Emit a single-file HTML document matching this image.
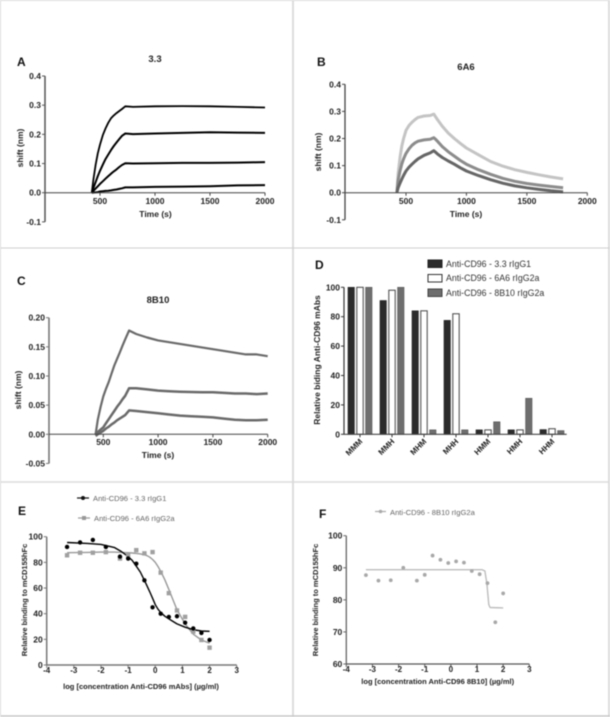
<!DOCTYPE html>
<html lang="en">
<head>
<meta charset="utf-8">
<title>Anti-CD96 binding panels</title>
<style>
html,body{margin:0;padding:0;background:#fff;}
#figure{display:block;width:610px;height:717px;font-family:"Liberation Sans",sans-serif;filter:blur(0.4px);}
text{font-family:"Liberation Sans",sans-serif;}
.panel{font-size:12px;font-weight:bold;fill:#111;}
.title{font-size:9.5px;font-weight:bold;fill:#222;text-anchor:middle;}
.axt{font-size:8.5px;font-weight:bold;fill:#222;text-anchor:middle;}
.tick{font-size:8.5px;fill:#222;font-weight:bold;stroke:none;}
.leg{font-size:8.8px;fill:#333;}
.leg2{font-size:7.6px;fill:#666;}
</style>
</head>
<body>
<svg id="figure" xmlns="http://www.w3.org/2000/svg" width="610" height="717" viewBox="0 0 610 717">
  <g stroke="#dcdcdc" fill="none">
    <line x1="0" y1="0.5" x2="610" y2="0.5"/>
    <line x1="293" y1="0" x2="293" y2="717" stroke-width="2"/>
    <line x1="609" y1="0" x2="609" y2="717" stroke-width="2"/>
    <line x1="0" y1="248" x2="610" y2="248" stroke="#cfcfcf"/>
    <line x1="0" y1="482" x2="610" y2="482" stroke-width="1.5"/>
    <line x1="0" y1="716" x2="610" y2="716" stroke="#c8c8c8" stroke-width="1.5"/>
    <line x1="0.5" y1="0" x2="0.5" y2="717"/>
  </g>

  <text class="panel" x="17" y="66">A</text>
  <text class="panel" x="317" y="66">B</text>
  <text class="panel" x="17" y="285">C</text>
  <text class="panel" x="315" y="269">D</text>
  <text class="panel" x="18" y="515">E</text>
  <text class="panel" x="319" y="518">F</text>

  <text class="title" x="155" y="62">3.3</text>
  <text class="title" x="466" y="70">6A6</text>
  <text class="title" x="158" y="303">8B10</text>

  <text class="axt" transform="translate(23,148) rotate(-90)">shift (nm)</text>
  <text class="axt" x="155.5" y="217">Time (s)</text>
  <text class="axt" transform="translate(321,152) rotate(-90)">shift (nm)</text>
  <text class="axt" x="466" y="217">Time (s)</text>
  <text class="axt" transform="translate(21,390) rotate(-90)">shift (nm)</text>
  <text class="axt" x="158" y="458">Time (s)</text>
  <text class="axt" transform="translate(320,360) rotate(-90)">Relative biding Anti-CD96 mAbs</text>
  <text class="axt" style="font-size:7.5px" transform="translate(27,600) rotate(-90)">Relative binding to mCD155hFc</text>
  <text class="axt" style="font-size:7.5px" x="141" y="689">log [concentration Anti-CD96 mAbs] (µg/ml)</text>
  <text class="axt" style="font-size:7.5px" transform="translate(318,600) rotate(-90)">Relative binding to mCD155hFc</text>
  <text class="axt" style="font-size:7.5px" x="437.7" y="684">log [concentration Anti-CD96 8B10] (µg/ml)</text>

  <g>
    <rect x="428" y="260" width="14" height="7.5" fill="#2b2b2b" stroke="#222"/>
    <text class="leg" x="446" y="267">Anti-CD96 - 3.3 rIgG1</text>
    <rect x="428" y="274.5" width="14" height="7.5" fill="#fff" stroke="#333"/>
    <text class="leg" x="446" y="281">Anti-CD96 - 6A6 rIgG2a</text>
    <rect x="428" y="289" width="14" height="7.5" fill="#6e6e6e" stroke="#444"/>
    <text class="leg" x="446" y="296">Anti-CD96 - 8B10 rIgG2a</text>
  </g>

  <g>
    <line x1="77" y1="498" x2="89" y2="498" stroke="#111" stroke-width="1.2"/>
    <circle cx="83" cy="498" r="2" fill="#111"/>
    <text class="leg2" x="93" y="501">Anti-CD96 - 3.3 rIgG1</text>
    <line x1="78" y1="518" x2="90" y2="518" stroke="#999" stroke-width="1.2"/>
    <rect x="82" y="516" width="4" height="4" fill="#999"/>
    <text class="leg2" x="94" y="521">Anti-CD96 - 6A6 rIgG2a</text>
  </g>

  <g>
    <line x1="375" y1="511.5" x2="386" y2="511.5" stroke="#aaa" stroke-width="1.2"/>
    <circle cx="380.5" cy="511.5" r="1.8" fill="#aaa"/>
    <text class="leg2" x="390" y="515">Anti-CD96 - 8B10 rIgG2a</text>
  </g>

  <g id="marks"></g>
</svg>
<script>
// Panel A
const aTime = [425,440,460,480,500,525,550,575,600,625,650,675,700,730,800,1000,1250,1500,1750,2000];
const aTop = [0,.045,.095,.135,.165,.197,.22,.24,.255,.265,.273,.28,.287,.296,.294,.296,.297,.296,.294,.292];
const aSecond = [0,.016,.036,.057,.075,.096,.115,.131,.146,.16,.172,.184,.195,.203,.201,.203,.205,.207,.206,.205];
const aThird = [0,.006,.014,.022,.03,.039,.048,.057,.065,.073,.08,.088,.095,.101,.1,.101,.102,.102,.103,.105];
const aFourth = [0,.0005,.001,.002,.004,.005,.006,.007,.008,.0095,.011,.013,.015,.018,.018,.02,.021,.022,.025,.026];
const aYTicks = ['-0.1','0.0','0.1','0.2','0.3','0.4'];
const timeTicks = ['500','1000','1500','2000'];

// Panel B
const bTime = [425,435,450,465,480,500,525,550,575,600,650,700,730,745,760,800,850,900,950,1000,1100,1200,1300,1400,1500,1600,1700,1800];
const bLight = [0,.07,.13,.172,.2,.23,.248,.26,.27,.278,.283,.285,.29,.28,.27,.245,.22,.2,.182,.165,.14,.115,.098,.085,.075,.066,.058,.051];
const bMid = [0,.045,.08,.106,.125,.145,.162,.175,.184,.19,.195,.197,.203,.197,.19,.17,.151,.135,.119,.105,.085,.068,.053,.042,.034,.028,.023,.018];
const bDark = [0,.018,.035,.05,.064,.08,.094,.105,.116,.125,.138,.147,.155,.149,.143,.13,.117,.105,.092,.08,.063,.048,.035,.025,.018,.012,.007,.003];
const bYTicks = ['-0.1','0.0','0.1','0.2','0.3','0.4'];

// Panel C
const cTime = [430,450,475,500,525,550,575,600,625,650,675,700,735,800,900,1000,1100,1200,1300,1400,1500,1600,1700,1800,1900,2000];
const cTop = [0,.025,.047,.065,.078,.09,.104,.118,.129,.14,.152,.163,.178,.172,.166,.161,.158,.155,.152,.149,.146,.143,.14,.137,.137,.134];
const cMid = [0,.004,.008,.012,.019,.026,.033,.04,.047,.053,.06,.066,.079,.079,.077,.075,.074,.073,.0725,.072,.072,.071,.07,.07,.069,.07];
const cLow = [-.003,0,.003,.006,.01,.013,.017,.02,.024,.027,.03,.033,.041,.04,.038,.036,.034,.032,.031,.03,.029,.027,.025,.024,.024,.025];
const cYTicks = ['-0.05','0.00','0.05','0.10','0.15','0.20'];

// Panel D
const dCategories = ['MMM','MMH','MHM','MHH','HMM','HMH','HHM'];
const d33 = [100,91,84,77.5,3,3,3.2];
const d6A6 = [100,98,84,82,3,3,3.8];
const d8B10 = [100,100,3,3,8.5,24.5,2.5];
const dYTicks = ['0','20','40','60','80','100'];

// Panels E and F
const doseLog = [-3.25,-2.77,-2.3,-1.82,-1.3,-1,-0.7,-0.4,-0.1,0.2,0.5,0.8,1.1,1.4,1.7,2];
const e33Points = [92,95.5,97.5,92,84.5,83,79,66,45,40,37.5,38,33,28.5,25,19.5];
const e6A6Points = [85.5,87.5,87.5,88,83,85.5,89.5,87,88,72,56,42.5,37.5,26,19.5,13.5];
const eCurveX = [-3.25,-2.5,-2,-1.5,-1.25,-1,-.85,-.7,-.55,-.4,-.3,-.2,-.1,0,.1,.2,.35,.5,.65,.8,1.1,1.4,1.7,2];
const e33Curve = [95.5,94.8,94,91.5,88.5,84.5,81.5,77,72.5,66,61.5,57,52,47,43.5,41,38,36,34,32,29.5,27.5,26.5,26.3];
const e6A6Curve = [87.5,87.8,88,88,87.8,87.5,87.3,87,86.6,86,85.2,84,82.2,80,76.8,73,66.5,59,51,43,32,24,19.5,17];
const f8B10Points = [87.7,86,86.1,90,86,87.8,93.8,92.5,91.5,92,91.6,89,88,85.2,73,82];
const fCurveX = [-3.25,1.2,1.3,1.38,1.45,1.5,2];
const fCurve = [89.4,89.4,89,85,78.5,77.6,77.5];
const logTicks = ['-4','-3','-2','-1','0','1','2','3'];
const eYTicks = ['0','20','40','60','80','100'];
const fYTicks = ['60','70','80','90','100'];

const root = document.getElementById('marks');
const NS = 'http://www.w3.org/2000/svg';

function make(tag, attrs) {
  const el = document.createElementNS(NS, tag);
  for (const k in attrs) el.setAttribute(k, attrs[k]);
  root.appendChild(el);
  return el;
}
function linear(d0, d1, r0, r1) {
  return v => r0 + (v - d0) * (r1 - r0) / (d1 - d0);
}
function drawCurve(xs, ys, sx, sy, color, width) {
  const pts = xs.map((x, i) => sx(x).toFixed(1) + ',' + sy(ys[i]).toFixed(1)).join(' ');
  const el = make('polyline', {points: pts, fill: 'none', stroke: color, 'stroke-width': width, 'stroke-linejoin': 'round'});
  
  
}
function drawYAxis(ticks, sy, xPos, color, width) {
  const nums = ticks.map(Number);
  const axis = make('line', {x1: xPos, x2: xPos, y1: sy(Math.min(...nums)), y2: sy(Math.max(...nums)), stroke: color, 'stroke-width': width});
  
  
  ticks.forEach(t => {
    const y = sy(Number(t));
    const m = make('line', {x1: xPos - 3, x2: xPos, y1: y, y2: y, stroke: color, 'stroke-width': 1});
    
    
    const lab = make('text', {x: xPos - 4, y: y + 3, 'text-anchor': 'end', class: 'tick'});
    lab.textContent = t;
    
    
  });
}
function drawXAxis(ticks, sx, yPos, x0, x1, color, width, labelY, size) {
  const axis = make('line', {x1: x0, x2: x1, y1: yPos, y2: yPos, stroke: color, 'stroke-width': width});
  
  
  ticks.forEach(t => {
    const x = sx(Number(t));
    const m = make('line', {x1: x, x2: x, y1: yPos, y2: yPos + 3, stroke: color, 'stroke-width': 1});
    
    
    const lab = make('text', {x: x, y: labelY, 'text-anchor': 'middle', class: 'tick', style: 'font-size:' + size + 'px'});
    lab.textContent = t;
    
    
  });
}

// A
const ax = linear(500, 2000, 100, 265), ay = linear(0, 0.4, 192.7, 76);
drawCurve(aTime, aTop, ax, ay, '#000', 1.8);
drawCurve(aTime, aSecond, ax, ay, '#000', 2);
drawCurve(aTime, aThird, ax, ay, '#000', 2);
drawCurve(aTime, aFourth, ax, ay, '#000', 2);
drawYAxis(aYTicks, ay, 45, '#555', 1.5);
drawXAxis(timeTicks, ax, ay(0), 45, 265, '#444', 1, 204, 8.5);

// B
const bx = linear(500, 2000, 406, 587.3), by = linear(0, 0.4, 192.7, 84.3);
drawCurve(bTime, bLight, bx, by, '#c4c4c4', 3);
drawCurve(bTime, bMid, bx, by, '#8c8c8c', 3);
drawCurve(bTime, bDark, bx, by, '#666', 3);
drawYAxis(bYTicks, by, 345, '#444', 1.3);
drawXAxis(timeTicks, bx, by(0), 345, 587.3, '#444', 1, 204, 8.5);

// C
const cx = linear(500, 2000, 103.3, 267.7), cy = linear(0, 0.2, 434.3, 317.7);
drawCurve(cTime, cTop, cx, cy, '#6a6a6a', 2.2);
drawCurve(cTime, cMid, cx, cy, '#6a6a6a', 2.5);
drawCurve(cTime, cLow, cx, cy, '#6a6a6a', 2.5);
drawYAxis(cYTicks, cy, 49, '#777', 1.6);
drawXAxis(timeTicks, cx, cy(0), 49, 267.7, '#444', 1, 445, 8.5);

// D
const dy = linear(0, 100, 434.3, 287.3);
const dCenter = linear(0, 6, 360, 552);
const barW = 6.4;
const barStep = 8.8;
dCategories.forEach((name, i) => {
  const c = dCenter(i);
  const b1 = make('rect', {x: c - barStep - barW / 2, y: dy(d33[i]), width: barW, height: dy(0) - dy(d33[i]), fill: '#2b2b2b', stroke: '#222', 'stroke-width': 0.6});
  
  
  const b2 = make('rect', {x: c - barW / 2, y: dy(d6A6[i]), width: barW, height: dy(0) - dy(d6A6[i]), fill: '#fff', stroke: '#444', 'stroke-width': 1});
  
  
  const b3 = make('rect', {x: c + barStep - barW / 2, y: dy(d8B10[i]), width: barW, height: dy(0) - dy(d8B10[i]), fill: '#6e6e6e', stroke: '#555', 'stroke-width': 0.6});
  
  
  const m = make('line', {x1: c, x2: c, y1: dy(0), y2: dy(0) + 3, stroke: '#333'});
  
  
  const lab = make('text', {'text-anchor': 'end', class: 'tick', transform: 'translate(' + (c + 3) + ',442) rotate(-45)', style: 'font-size:8px'});
  lab.textContent = name;
  
  
});
drawYAxis(dYTicks, dy, 344, '#333', 1.2);
const dBase = make('line', {x1: 344, x2: 566.7, y1: dy(0), y2: dy(0), stroke: '#444', 'stroke-width': 1.2});



// E
const ex = linear(-4, 3, 46.7, 236.7), ey = linear(0, 100, 665, 536.7);
drawCurve(eCurveX, e6A6Curve, ex, ey, '#999', 1.4);
drawCurve(eCurveX, e33Curve, ex, ey, '#000', 1.4);
doseLog.forEach((d, i) => {
  const s = make('rect', {x: ex(d) - 2.2, y: ey(e6A6Points[i]) - 2.2, width: 4.4, height: 4.4, fill: '#a0a0a0'});
  
  
  const p = make('circle', {cx: ex(d), cy: ey(e33Points[i]), r: 2.2, fill: '#000'});
  
  
});
drawYAxis(eYTicks, ey, 46.7, '#777', 1.5);
drawXAxis(logTicks, ex, ey(0), 46.7, 236.7, '#777', 1.5, 673, 8);

// F
const fx = linear(-4, 3, 346.3, 529.3), fy = linear(60, 100, 664, 535.7);
drawCurve(fCurveX, fCurve, fx, fy, '#bdbdbd', 1.4);
doseLog.forEach((d, i) => {
  const p = make('circle', {cx: fx(d), cy: fy(f8B10Points[i]), r: 1.9, fill: '#a8a8a8'});
  
  
});
drawYAxis(fYTicks, fy, 346.3, '#666', 1.3);
drawXAxis(logTicks, fx, fy(60), 346.3, 529.3, '#555', 1.3, 672, 8);
</script>
</body>
</html>
